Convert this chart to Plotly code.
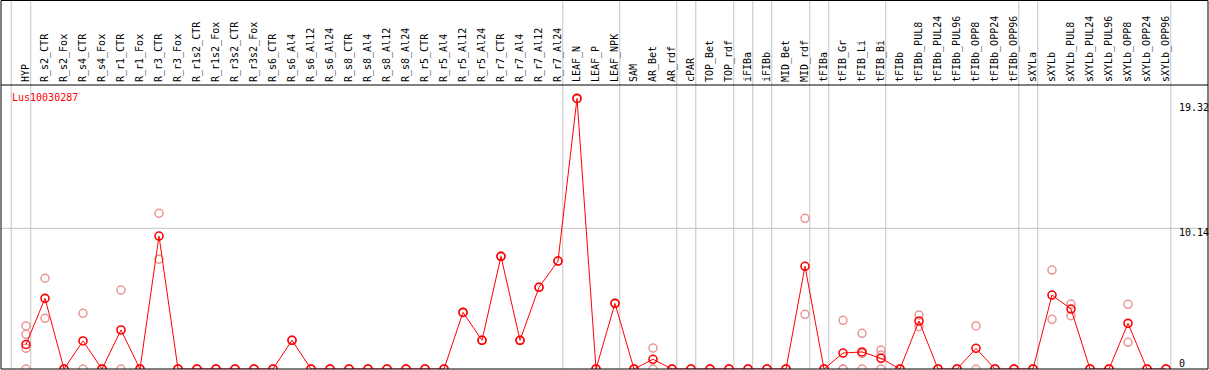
import plotly.graph_objects as go

categories = [
    "HYP", "R_s2_CTR", "R_s2_Fox", "R_s4_CTR", "R_s4_Fox", "R_r1_CTR", "R_r1_Fox",
    "R_r3_CTR", "R_r3_Fox", "R_r1s2_CTR", "R_r1s2_Fox", "R_r3s2_CTR", "R_r3s2_Fox",
    "R_s6_CTR", "R_s6_Al4", "R_s6_Al12", "R_s6_Al24", "R_s8_CTR", "R_s8_Al4",
    "R_s8_Al12", "R_s8_Al24", "R_r5_CTR", "R_r5_Al4", "R_r5_Al12", "R_r5_Al24",
    "R_r7_CTR", "R_r7_Al4", "R_r7_Al12", "R_r7_Al24", "LEAF_N", "LEAF_P", "LEAF_NPK",
    "SAM", "AR_Bet", "AR_rdf", "cPAR", "TOP_Bet", "TOP_rdf", "iFIBa", "iFIBb",
    "MID_Bet", "MID_rdf", "tFIBa", "tFIB_Gr", "tFIB_Li", "tFIB_Bi", "tFIBb",
    "tFIBb_PUL8", "tFIBb_PUL24", "tFIBb_PUL96", "tFIBb_OPP8", "tFIBb_OPP24",
    "tFIBb_OPP96", "sXYLa", "sXYLb", "sXYLb_PUL8", "sXYLb_PUL24", "sXYLb_PUL96",
    "sXYLb_OPP8", "sXYLb_OPP24", "sXYLb_OPP96",
]

means = [
    1.77, 5.09, 0, 2.02, 0, 2.81, 0,
    9.58, 0, 0, 0, 0, 0,
    0, 2.07, 0, 0, 0, 0,
    0, 0, 0, 0, 4.08, 2.07,
    8.12, 2.07, 5.89, 7.78, 19.5, 0, 4.73,
    0, 0.70, 0, 0, 0, 0, 0, 0,
    0, 7.40, 0, 1.15, 1.23, 0.77, 0,
    3.46, 0, 0, 1.49, 0,
    0, 0, 5.33, 4.32, 0, 0,
    3.29, 0, 0,
]

replicates = [
    [3.10, 2.50, 1.49, 0], [6.54, 3.65], [0, 0], [4.01, 0], [0, 0], [5.69, 0], [0, 0],
    [11.22, 7.91], [0, 0], [0, 0], [0, 0], [0, 0], [0, 0],
    [0, 0], [2.07, 2.07], [0, 0], [0, 0], [0, 0], [0, 0],
    [0, 0], [0, 0], [0, 0], [0, 0], [4.08, 4.08], [2.07, 2.07],
    [8.12, 8.12], [2.07, 2.07], [5.89, 5.89], [7.78, 7.78], [19.5, 19.5], [0, 0], [4.73, 4.73],
    [0, 0], [1.51, 0], [0, 0], [0, 0], [0, 0], [0, 0], [0, 0], [0, 0],
    [0, 0], [10.86, 3.94], [0, 0], [3.51, 0, 0], [2.57, 1.12, 0], [1.37, 1.01, 0], [0, 0],
    [3.89, 3.05], [0, 0], [0, 0], [3.10, 0], [0, 0],
    [0, 0], [0, 0], [7.13, 3.58], [4.68, 3.84], [0, 0], [0, 0],
    [4.66, 1.92], [0, 0], [0, 0],
]

group_ends = ["HYP", "R_r7_Al24", "LEAF_NPK", "AR_rdf", "cPAR", "TOP_rdf", "iFIBa",
              "iFIBb", "MID_rdf", "tFIBa", "tFIB_Bi", "tFIBb_OPP96", "sXYLa", "sXYLb_OPP96"]

y_ticks = [0, 10.14, 19.32]
gene_name = "Lus10030287"

MONO = "DejaVu Sans Mono"
W, H = 1209, 370
TOP, BOTTOM = 85, 1
plot_h = H - TOP - BOTTOM
paper_top = 1 + (TOP - 0.5) / plot_h

rep_x, rep_y = [], []
for c, reps in zip(categories, replicates):
    for v in reps:
        rep_x.append(c)
        rep_y.append(v)

fig = go.Figure()
fig.add_trace(go.Scatter(
    x=rep_x, y=rep_y, mode="markers",
    marker=dict(symbol="circle-open", size=8, color="#eb9696", line=dict(width=1.5, color="#eb9696")),
    hoverinfo="skip", showlegend=False,
))
fig.add_trace(go.Scatter(
    x=categories, y=means, mode="lines+markers",
    line=dict(color="#ff0000", width=1),
    marker=dict(symbol="circle-open", size=8, color="#ff0000", line=dict(width=1.6, color="#ff0000")),
    showlegend=False,
))

shapes = []
bounds = [-0.78] + [categories.index(c) + 0.25 for c in group_ends]
for b in bounds:
    shapes.append(dict(type="line", xref="x", yref="paper", x0=b, x1=b, y0=0, y1=paper_top,
                       line=dict(color="#c4c4c4", width=1), layer="below"))
shapes.append(dict(type="line", xref="paper", yref="y", x0=0, x1=1, y0=y_ticks[1], y1=y_ticks[1],
                   line=dict(color="#c4c4c4", width=1), layer="below"))
# frame
shapes.append(dict(type="rect", xref="paper", yref="paper", x0=0, x1=1, y0=0, y1=paper_top,
                   line=dict(color="black", width=1), layer="above"))
shapes.append(dict(type="line", xref="paper", yref="paper", x0=0, x1=1, y0=1, y1=1,
                   line=dict(color="black", width=1), layer="above"))

label_x = (1177 - 1) / (W - 2)
annotations = [
    dict(text=gene_name, xref="paper", yref="paper", x=(10 - 1) / (W - 2), y=(H - BOTTOM - 97) / plot_h,
         xanchor="left", yanchor="middle", showarrow=False, font=dict(family=MONO, size=10, color="#ff0000")),
]
shifts = {0: 6, 1: -4, 2: -7}
for i, t in enumerate(y_ticks):
    annotations.append(dict(text=f"{t:g}", xref="paper", yref="y", x=label_x, y=t,
                            xanchor="left", yanchor="middle", yshift=shifts[i], showarrow=False,
                            font=dict(family=MONO, size=10, color="black")))

fig.update_layout(
    width=W, height=H,
    margin=dict(l=1, r=1, t=TOP, b=BOTTOM, pad=0, autoexpand=False),
    paper_bgcolor="white", plot_bgcolor="white",
    xaxis=dict(type="category", range=[(1 - 26) / 19, (1208 - 26) / 19], side="top",
               tickangle=-90, tickfont=dict(family=MONO, size=10, color="black"),
               ticks="", showgrid=False, zeroline=False, showline=False, fixedrange=True,
               ticklabelstandoff=2, automargin=False),
    yaxis=dict(range=[0, (369 - 85) / 13.876], showticklabels=False, showgrid=False,
               zeroline=False, showline=False, fixedrange=True, automargin=False),
    shapes=shapes, annotations=annotations, showlegend=False,
)

fig.write_html("out.html", config={"displayModeBar": False},
               post_script="document.body.style.margin='0';document.body.style.overflow='hidden';")
